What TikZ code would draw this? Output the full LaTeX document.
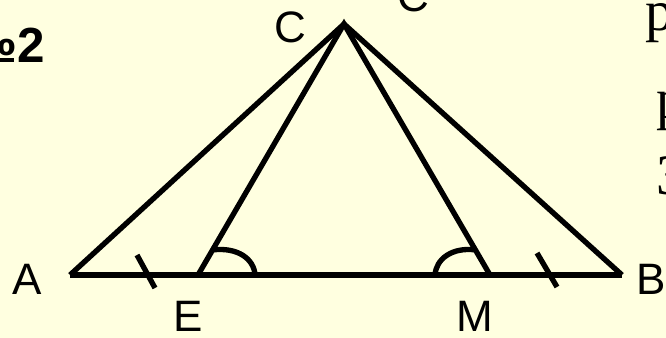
\documentclass[tikz,border=0pt]{standalone}
\usepackage{fontspec}
\setmainfont{Liberation Sans}
\newfontfamily\slideserif{Liberation Serif}
\usetikzlibrary{calc}
\definecolor{cPaper}{RGB}{255,255,224}
\tikzset{
  side/.style={line width=4pt, line join=miter},
  tickmark/.style={line width=4pt},
  anglearc/.style={line width=4pt},
  vlabel/.style={font=\fontsize{33}{38}\selectfont, inner sep=0pt},
  numlabel/.style={font=\fontsize{37}{42}\selectfont\bfseries, inner sep=0pt},
  cuttext/.style={font=\fontsize{43}{48}\selectfont\slideserif, inner sep=0pt, anchor=base west},
}

\begin{document}
\begin{tikzpicture}[x=0.75pt,y=-0.75pt]
  \fill[cPaper] (0,0) rectangle (666,338);
  \useasboundingbox (0,0) rectangle (666,338);
  % vertices
  \coordinate (A) at (70,275);
  \coordinate (B) at (622,275);
  \coordinate (C) at (344,24);
  \coordinate (E) at (198,275);
  \coordinate (M) at (490,275);
  % triangle and the two cevians
  \draw[side] (A) -- (B);
  \draw[side] (A) -- (C) -- (B);
  \draw[side] (E) -- (C) -- (M);
  % equal segments AE and MB
  \coordinate (tAE1) at (137,255);
  \coordinate (tAE2) at (155,288);
  \coordinate (tMB1) at (537,253);
  \coordinate (tMB2) at (557,287);
  \draw[tickmark] (tAE1) -- (tAE2);
  \draw[tickmark] (tMB1) -- (tMB2);
  % equal angles at E and M
  \draw[anglearc] ($(E)!0.1!(C)$) .. controls (238,247) and (254,259) .. ($(E)+(57,0)$);
  \draw[anglearc] ($(M)!0.1!(C)$) .. controls (452,247) and (436,259) .. ($(M)+(-55,0)$);
  % labels
  \node[vlabel] (lA) at (27,279) {A};
  \node[vlabel] (lB) at (651,279) {B};
  \node[vlabel] (lC) at (290,27) {C};
  \node[vlabel] (lC2) at (413,-4) {C};
  \node[vlabel] (lE) at (188,316) {E};
  \node[vlabel] (lM) at (475,316) {M};
  \node[numlabel, anchor=base east] (num) at (45,63) {№2};
  % cut-off lines of text on the right
  \node[cuttext] (t1) at (645,31) {р};
  \node[cuttext] (t2) at (656,119) {р};
  \node[cuttext] (t3) at (656,195) {3};
\end{tikzpicture}
\end{document}
